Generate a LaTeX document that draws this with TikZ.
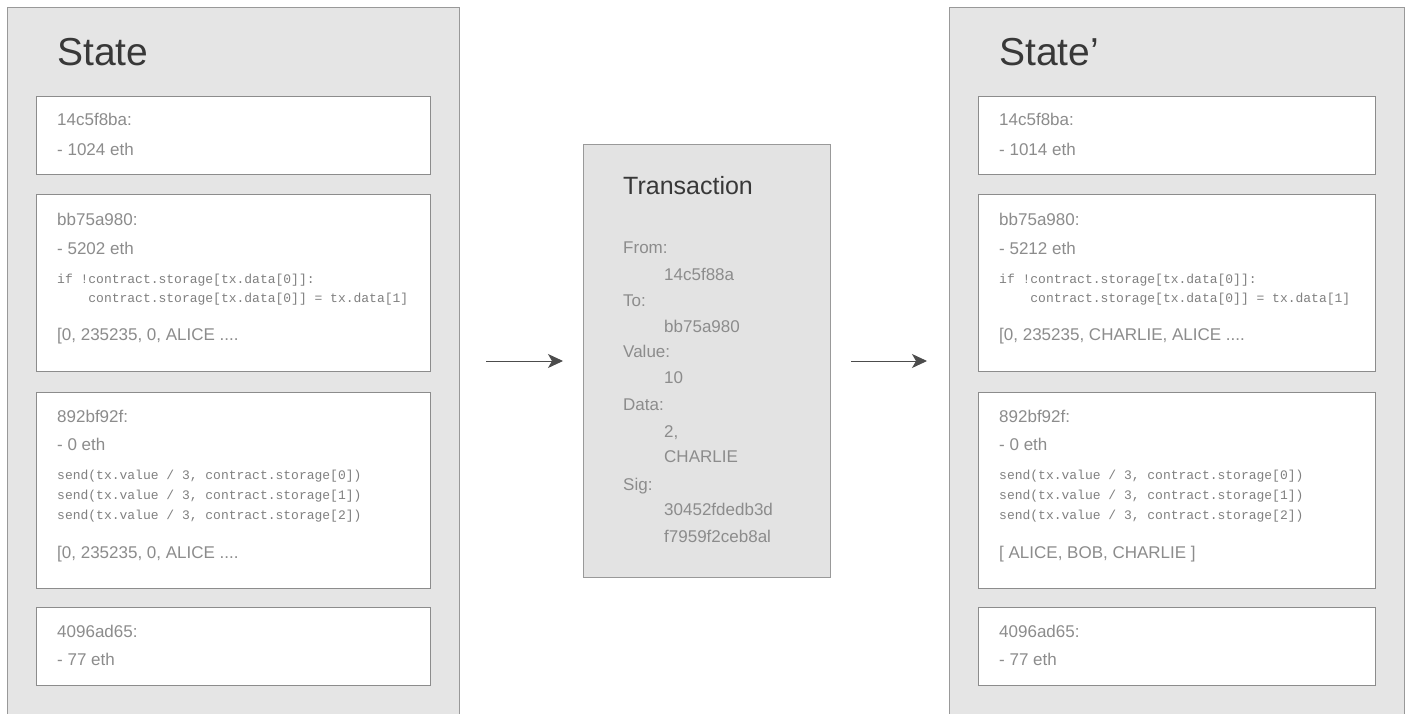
\documentclass[tikz,border=0pt]{standalone}
\usepackage{fontspec}
\setmainfont{Liberation Sans}
\setmonofont{Liberation Mono}
\usetikzlibrary{arrows.meta}

\begin{document}
\begin{tikzpicture}[
		x=1pt, y=-1pt,
		panel/.style={rectangle, draw=black!40, fill=black!10, line width=1pt, anchor=north west, inner sep=0},
		acct/.style={rectangle, draw=black!45, fill=white, line width=1pt, anchor=north west, inner sep=0, minimum width=394},
		heading/.style={anchor=base west, inner sep=0, text=black!78, font=\fontsize{39}{44}\selectfont},
		txt/.style={anchor=base west, inner sep=0, text=black!45, font=\fontsize{17}{20}\selectfont},
		codeline/.style={anchor=base west, inner sep=0, text=black!50, font=\ttfamily\fontsize{13}{15}\selectfont},
		arrow/.style={-{Stealth[length=15pt, width=14pt, inset=4pt]}, line width=1pt, draw=black!70}
		]
		
		% Page
		\fill[white] (0,0) rectangle (1413,713);
		\useasboundingbox (0,0) rectangle (1413,713);
		\clip (0,0) rectangle (1413,713);
		
		% -------- Panels --------
		\node[panel, minimum width=452, minimum height=720] (stateL) at (7,7) {};
		\node[panel, minimum width=455, minimum height=720] (stateR) at (949,7) {};
		\node[panel, fill=black!11, minimum width=247, minimum height=433] (tx) at (583,144) {};
		
		% Titles
		\node[heading] (titleL) at (57,65) {State};
		\node[heading] (titleR) at (999,65) {State'};
		
		% -------- Accounts, old state --------
		\node[acct, minimum height=78] (a1L) at (36,96) {};
		\node[acct, minimum height=177] (a2L) at (36,194) {};
		\node[acct, minimum height=196] (a3L) at (36,392) {};
		\node[acct, minimum height=78] (a4L) at (36,607) {};
		
		\node[txt] (a1L-addr) at (57,125) {14c5f8ba:};
		\node[txt] (a1L-bal) at (57,155) {- 1024 eth};
		
		\node[txt] (a2L-addr) at (57,225) {bb75a980:};
		\node[txt] (a2L-bal) at (57,254) {- 5202 eth};
		\node[codeline] (a2L-c1) at (57,283) {if !contract.storage[tx.data[0]]:};
		\node[codeline] (a2L-c2) at (57,302) {\hphantom{xxxx}contract.storage[tx.data[0]] = tx.data[1]};
		\node[txt] (a2L-mem) at (57,340) {[0, 235235, 0, ALICE ....};
		
		\node[txt] (a3L-addr) at (57,422) {892bf92f:};
		\node[txt] (a3L-bal) at (57,450) {- 0 eth};
		\node[codeline] (a3L-c1) at (57,479) {send(tx.value / 3, contract.storage[0])};
		\node[codeline] (a3L-c2) at (57,499) {send(tx.value / 3, contract.storage[1])};
		\node[codeline] (a3L-c3) at (57,519) {send(tx.value / 3, contract.storage[2])};
		\node[txt] (a3L-mem) at (57,558) {[0, 235235, 0, ALICE ....};
		
		\node[txt] (a4L-addr) at (57,637) {4096ad65:};
		\node[txt] (a4L-bal) at (57,665) {- 77 eth};
		
		% -------- Accounts, new state --------
		\node[acct, minimum width=397, minimum height=78] (a1R) at (978,96) {};
		\node[acct, minimum width=397, minimum height=177] (a2R) at (978,194) {};
		\node[acct, minimum width=397, minimum height=196] (a3R) at (978,392) {};
		\node[acct, minimum width=397, minimum height=78] (a4R) at (978,607) {};
		
		\node[txt] (a1R-addr) at (999,125) {14c5f8ba:};
		\node[txt] (a1R-bal) at (999,155) {- 1014 eth};
		
		\node[txt] (a2R-addr) at (999,225) {bb75a980:};
		\node[txt] (a2R-bal) at (999,254) {- 5212 eth};
		\node[codeline] (a2R-c1) at (999,283) {if !contract.storage[tx.data[0]]:};
		\node[codeline] (a2R-c2) at (999,302) {\hphantom{xxxx}contract.storage[tx.data[0]] = tx.data[1]};
		\node[txt] (a2R-mem) at (999,340) {[0, 235235, CHARLIE, ALICE ....};
		
		\node[txt] (a3R-addr) at (999,422) {892bf92f:};
		\node[txt] (a3R-bal) at (999,450) {- 0 eth};
		\node[codeline] (a3R-c1) at (999,479) {send(tx.value / 3, contract.storage[0])};
		\node[codeline] (a3R-c2) at (999,499) {send(tx.value / 3, contract.storage[1])};
		\node[codeline] (a3R-c3) at (999,519) {send(tx.value / 3, contract.storage[2])};
		\node[txt] (a3R-mem) at (999,558) {[ ALICE, BOB, CHARLIE ]};
		
		\node[txt] (a4R-addr) at (999,637) {4096ad65:};
		\node[txt] (a4R-bal) at (999,665) {- 77 eth};
		
		% -------- Transaction --------
		\node[heading, font=\fontsize{25}{30}\selectfont] (txtitle) at (623,194) {Transaction};
		\node[txt] (from) at (623,253) {From:};
		\node[txt] (fromv) at (664,280) {14c5f88a};
		\node[txt] (to) at (623,306) {To:};
		\node[txt] (tov) at (664,332) {bb75a980};
		\node[txt] (val) at (623,357) {Value:};
		\node[txt] (valv) at (664,383) {10};
		\node[txt] (data) at (623,410) {Data:};
		\node[txt] (data1) at (664,437) {2,};
		\node[txt] (data2) at (664,462) {CHARLIE};
		\node[txt] (sig) at (623,490) {Sig:};
		\node[txt] (sig1) at (664,515) {30452fdedb3d};
		\node[txt] (sig2) at (664,542) {f7959f2ceb8al};
		
		% ---- Connections ----
		\draw[arrow, shorten <=26pt, shorten >=20pt] (tx.west -| stateL.east) -- (tx.west);
		\draw[arrow, shorten <=20pt, shorten >=22pt] (tx.east) -- (tx.east -| stateR.west);
		
	\end{tikzpicture}
\end{document}
